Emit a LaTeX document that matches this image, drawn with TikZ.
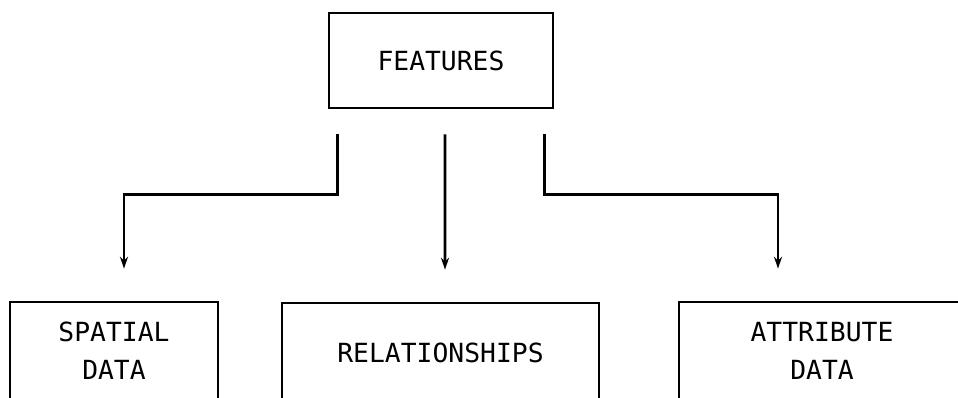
\documentclass[tikz,border=0pt]{standalone}
\usepackage{fontspec}
\newfontfamily\plotfont{DejaVu Sans Mono}
\usetikzlibrary{arrows.meta,calc}

\tikzset{
	box/.style={draw, line width=1.5pt, align=center, inner sep=0pt,
		font=\plotfont\fontsize{15}{21.6}\selectfont},
	link/.style={line width=1.5pt, -{Stealth[length=0.24cm,width=0.16cm]}}
}

\begin{document}
\begin{tikzpicture}[x=0.02cm, y=0.02cm]
	\clip (0,0) rectangle (958,397);
	% boxes
	\node[box, minimum width=4.48cm, minimum height=1.9cm] (features) at (441,336.5) {FEATURES};
	\node[box, minimum width=4.16cm, minimum height=1.96cm] (spatial) at (114,46) {SPATIAL\\DATA};
	\node[box, minimum width=6.34cm, minimum height=2cm] (relations) at (440.5,44) {RELATIONSHIPS};
	\node[box, minimum width=5.72cm, minimum height=1.96cm] (attribute) at (822,46) {ATTRIBUTE\\DATA};
	% links
	\draw[link] ($(features.south west)+(10,-25)$) |- ($(spatial.north)+(10,106)$)
		-- ($(spatial.north)+(10,32)$);
	\draw[link] ($(features.south)+(4,-25)$) -- ($(relations.north)+(4.5,32)$);
	\draw[link] ($(features.south east)+(-10,-25)$) |- ($(attribute.north)+(-44,106)$)
		-- ($(attribute.north)+(-44,32)$);
\end{tikzpicture}
\end{document}
